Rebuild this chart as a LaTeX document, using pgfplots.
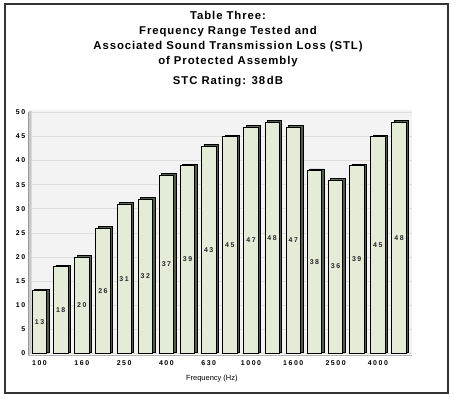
\documentclass[border=0pt]{standalone}
\usepackage{fontspec}
\setmainfont{Liberation Sans}
\newfontfamily\tickfont{Liberation Sans}[LetterSpace=22]
\newfontfamily\titlefont{Liberation Sans}[LetterSpace=8]
\usepackage{pgfplots}
\pgfplotsset{compat=1.18}
\definecolor{barface}{HTML}{E4EBD6}
\definecolor{barside}{HTML}{4D5C43}
\definecolor{plotbg}{HTML}{F3F3F3}
\pgfplotstableread{
x y
0 13
1 18
2 20
3 26
4 31
5 32
6 37
7 39
8 43
9 45
10 47
11 48
12 47
13 38
14 36
15 39
16 45
17 48
}\stldata
\begin{document}
\begin{tikzpicture}[x=1bp,y=1bp]
\useasboundingbox (0,0) rectangle (456,399);
\fill[white] (0,0) rectangle (456,399);
\draw[line width=1.4bp, black!80] (5,6) rectangle (448,395);
\begin{scope}[font=\titlefont\bfseries\fontsize{11.4}{13}\selectfont]
\node[anchor=base] at (228,380) {Table Three:};
\node[anchor=base] at (228,365) {Frequency Range Tested and};
\node[anchor=base] at (228,350) {Associated Sound Transmission Loss (STL)};
\node[anchor=base] at (228,335) {of Protected Assembly};
\node[anchor=base] at (228,315) {STC Rating: 38\,dB};
\end{scope}
\begin{axis}[
  at={(31.7bp,45.7bp)}, anchor=south west,
  scale only axis, width=380bp, height=243.3bp,
  xmin=-0.37, xmax=17.6, ymin=0, ymax=50.5,
  axis line style={draw=none},
  axis background/.style={fill=plotbg},
  /pgf/number format/assume math mode=true,
  ytick={0,5,...,50},
  xtick={0,2,...,16},
  xticklabels={100,160,250,400,630,1000,1600,2500,4000},
  major tick length=0pt,
  ymajorgrids, grid style={draw=black!13, line width=0.7bp},
  tick label style={font=\tickfont\bfseries\fontsize{7}{8}\selectfont},
  yticklabel style={xshift=-3bp},
  xticklabel style={yshift=-3.5bp},
  xlabel={Frequency (Hz)},
  xlabel style={font=\fontsize{7.5}{8}\selectfont, at={(axis description cs:0.474,0)}, anchor=center, yshift=-25.7bp},
  clip=false,
]
\fill[black!22] ([xshift=-3.5bp,yshift=-2bp]rel axis cs:0,0) -- (rel axis cs:0,0) -- (rel axis cs:0,1) -- ([xshift=-3.5bp,yshift=-2bp]rel axis cs:0,1) -- cycle;
\draw[black!40, line width=0.5bp] ([xshift=-3.5bp,yshift=-2bp]rel axis cs:0,0) -- ([xshift=-3.5bp,yshift=-2bp]rel axis cs:0,1);
\draw[black!30, line width=0.6bp] ([xshift=-3.5bp,yshift=-2bp]rel axis cs:0,0) -- ([yshift=-2bp]rel axis cs:1,0);
\addplot[ybar, bar width=0.68, bar shift=2.4bp, fill=barside, draw=black, line width=0.6bp, yshift=1.4bp] table[x=x,y=y] {\stldata};
\addplot[ybar, bar width=0.68, bar shift=0pt, fill=barface, draw=black, line width=0.7bp,
  nodes near coords,
  visualization depends on=rawy \as \rawy,
  every node near coord/.append style={anchor=center, shift={(axis direction cs:0,-\rawy/2)}, font=\tickfont\bfseries\fontsize{7}{8}\selectfont, text=black!85}
] table[x=x,y=y] {\stldata};
\end{axis}
\end{tikzpicture}
\end{document}
